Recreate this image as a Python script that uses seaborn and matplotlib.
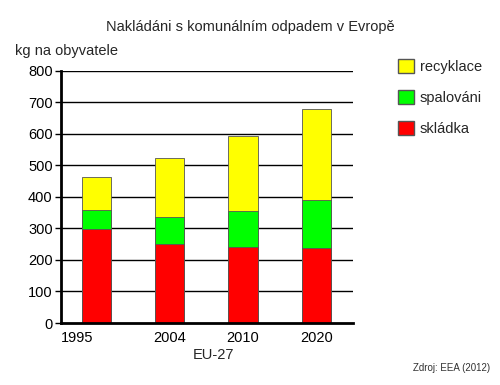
import matplotlib
matplotlib.use('Agg')
import matplotlib.pyplot as plt
import matplotlib.transforms as mtransforms
import seaborn as sns
import pandas as pd
from matplotlib.patches import Patch

# data (kg per inhabitant)
years = ['1995', '2004', '2010', '2020']
skladka = [298, 250, 240, 238]
spalovani = [62, 85, 115, 152]
recyklace = [103, 187, 237, 290]

df = pd.DataFrame({'rok': years, 'skladka': skladka,
                   'spalovani': spalovani, 'recyklace': recyklace})
df['s2'] = df['skladka'] + df['spalovani']
df['s3'] = df['s2'] + df['recyklace']

sns.set_style('white')
plt.rcParams['font.family'] = ['Liberation Sans', 'DejaVu Sans']

fig = plt.figure(figsize=(5, 3.85), dpi=100)
ax = fig.add_axes([0.122, 0.161, 0.584, 0.655])

for y in range(100, 900, 100):
    ax.axhline(y, color='black', lw=1, zorder=0)

# stacked bars drawn as layered cumulative totals
sns.barplot(data=df, x='rok', y='s3', color='#ffff00', edgecolor='#555555',
            linewidth=0.6, width=0.4, saturation=1, ax=ax, zorder=2)
sns.barplot(data=df, x='rok', y='s2', color='#00ff00', edgecolor='#555555',
            linewidth=0.6, width=0.4, saturation=1, ax=ax, zorder=3)
sns.barplot(data=df, x='rok', y='skladka', color='#ff0000', edgecolor='#555555',
            linewidth=0.6, width=0.4, saturation=1, ax=ax, zorder=4)

ax.set_xlim(-0.48, 3.5)
ax.set_ylim(0, 800)
ax.set_yticks(range(0, 900, 100))
ax.set_xlabel('')
ax.set_ylabel('')
for s in ['top', 'right']:
    ax.spines[s].set_visible(False)
for s in ['left', 'bottom']:
    ax.spines[s].set_linewidth(2)
    ax.spines[s].set_color('black')
    ax.spines[s].set_zorder(5)
ax.tick_params(axis='both', labelsize=10.5, length=4, width=1, colors='black',
               left=True, bottom=False, direction='out', pad=2)

# first year label sits left of its bar in the original
offset = mtransforms.ScaledTranslation(-0.19, 0, fig.dpi_scale_trans)
lbl = ax.get_xticklabels()[0]
lbl.set_transform(lbl.get_transform() + offset)

fig.text(0.5, 0.93, 'Nakládáni s komunálním odpadem v Evropě',
         ha='center', va='center', fontsize=10.5)
fig.text(0.03, 0.868, 'kg na obyvatele', ha='left', va='center', fontsize=10.5)
fig.text(0.426, 0.078, 'EU-27', ha='center', va='center', fontsize=10.5)
fig.text(0.98, 0.045, 'Zdroj: EEA (2012)', ha='right', va='center',
         fontsize=7, color='#333333')

handles = [Patch(facecolor='#ffff00', edgecolor='#555555', label='recyklace'),
           Patch(facecolor='#00ff00', edgecolor='#555555', label='spalováni'),
           Patch(facecolor='#ff0000', edgecolor='#555555', label='skládka')]
fig.legend(handles=handles, loc='upper left', bbox_to_anchor=(0.77, 0.88),
           frameon=False, fontsize=10.5, handlelength=1.1, handleheight=1.1,
           labelspacing=1.1, handletextpad=0.4)

fig.savefig('out.png', dpi=100)
